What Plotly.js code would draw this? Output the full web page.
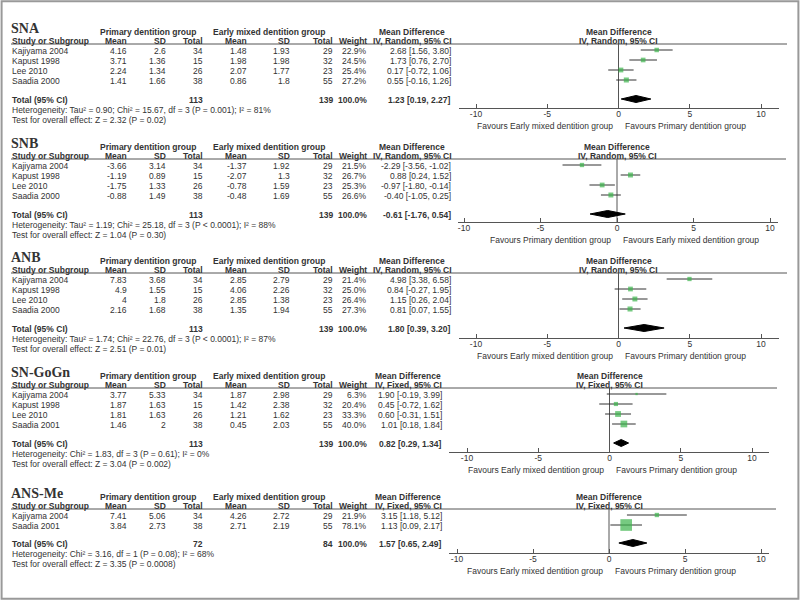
<!DOCTYPE html>
<html><head><meta charset="utf-8">
<script src="https://cdn.plot.ly/plotly-3.0.1.min.js"></script>
<style>html,body{margin:0;padding:0;background:#fff}#chart{width:800px;height:600px}</style>
</head><body><div id="chart"></div>
<script>
// ---------------- DATA ----------------
const panelNames = ['SNA', 'SNB', 'ANB', 'SN-GoGn', 'ANS-Me'];
const panelMethods = ['IV, Random, 95% CI', 'IV, Random, 95% CI', 'IV, Random, 95% CI', 'IV, Fixed, 95% CI', 'IV, Fixed, 95% CI'];
const favoursLeft = ['Favours Early mixed dentition group', 'Favours Primary dentition group', 'Favours Early mixed dentition group', 'Favours Early mixed dentition group', 'Favours Early mixed dentition group'];
const favoursRight = ['Favours Primary dentition group', 'Favours Early mixed dentition group', 'Favours Primary dentition group', 'Favours Primary dentition group', 'Favours Primary dentition group'];
const tickValues = [-10, -5, 0, 5, 10];

const studyNames = [
  ['Kajiyama 2004', 'Kapust 1998', 'Lee 2010', 'Saadia 2000'],
  ['Kajiyama 2004', 'Kapust 1998', 'Lee 2010', 'Saadia 2000'],
  ['Kajiyama 2004', 'Kapust 1998', 'Lee 2010', 'Saadia 2000'],
  ['Kajiyama 2004', 'Kapust 1998', 'Lee 2010', 'Saadia 2001'],
  ['Kajiyama 2004', 'Saadia 2001']
];
const primaryMean = [[4.16, 3.71, 2.24, 1.41], [-3.66, -1.19, -1.75, -0.88], [7.83, 4.9, 4, 2.16], [3.77, 1.87, 1.81, 1.46], [7.41, 3.84]];
const primarySD   = [[2.6, 1.36, 1.34, 1.66], [3.14, 0.89, 1.33, 1.49], [3.68, 1.55, 1.8, 1.68], [5.33, 1.63, 1.63, 2], [5.06, 2.73]];
const primaryN    = [[34, 15, 26, 38], [34, 15, 26, 38], [34, 15, 26, 38], [34, 15, 26, 38], [34, 38]];
const mixedMean   = [[1.48, 1.98, 2.07, 0.86], [-1.37, -2.07, -0.78, -0.48], [2.85, 4.06, 2.85, 1.35], [1.87, 1.42, 1.21, 0.45], [4.26, 2.71]];
const mixedSD     = [[1.93, 1.98, 1.77, 1.8], [1.92, 1.3, 1.59, 1.69], [2.79, 2.26, 1.38, 1.94], [2.98, 2.38, 1.62, 2.03], [2.72, 2.19]];
const mixedN      = [[29, 32, 23, 55], [29, 32, 23, 55], [29, 32, 23, 55], [29, 32, 23, 55], [29, 55]];
const weightPct   = [[22.9, 24.5, 25.4, 27.2], [21.5, 26.7, 25.3, 26.6], [21.4, 25.0, 26.4, 27.3], [6.3, 20.4, 33.3, 40.0], [21.9, 78.1]];
const meanDiff    = [[2.68, 1.73, 0.17, 0.55], [-2.29, 0.88, -0.97, -0.40], [4.98, 0.84, 1.15, 0.81], [1.90, 0.45, 0.60, 1.01], [3.15, 1.13]];
const ciLow       = [[1.56, 0.76, -0.72, -0.16], [-3.56, 0.24, -1.80, -1.05], [3.38, -0.27, 0.26, 0.07], [-0.19, -0.72, -0.31, 0.18], [1.18, 0.09]];
const ciHigh      = [[3.80, 2.70, 1.06, 1.26], [-1.02, 1.52, -0.14, 0.25], [6.58, 1.95, 2.04, 1.55], [3.99, 1.62, 1.51, 1.84], [5.12, 2.17]];

const totalPrimaryN = [113, 113, 113, 113, 72];
const totalMixedN   = [139, 139, 139, 139, 84];
const totalMD       = [1.23, -0.61, 1.80, 0.82, 1.57];
const totalLow      = [0.19, -1.76, 0.39, 0.29, 0.65];
const totalHigh     = [2.27, 0.54, 3.20, 1.34, 2.49];
const heterogeneity = [
  'Heterogeneity: Tau² = 0.90; Chi² = 15.67, df = 3 (P = 0.001); I² = 81%',
  'Heterogeneity: Tau² = 1.19; Chi² = 25.18, df = 3 (P < 0.0001); I² = 88%',
  'Heterogeneity: Tau² = 1.74; Chi² = 22.76, df = 3 (P < 0.0001); I² = 87%',
  'Heterogeneity: Chi² = 1.83, df = 3 (P = 0.61); I² = 0%',
  'Heterogeneity: Chi² = 3.16, df = 1 (P = 0.08); I² = 68%'
];
const overallEffect = [
  'Test for overall effect: Z = 2.32 (P = 0.02)',
  'Test for overall effect: Z = 1.04 (P = 0.30)',
  'Test for overall effect: Z = 2.51 (P = 0.01)',
  'Test for overall effect: Z = 3.04 (P = 0.002)',
  'Test for overall effect: Z = 3.35 (P = 0.0008)'
];

// ---------------- LAYOUT (pixel positions) ----------------
const W = 800, H = 600;
const panelPos = [
  {rule: 44,  total: 99,  axis: 108, n10: 476, p10: 761, ls: 459, le: 779, re: 787, mdRight: 452, mdCenter: 412},
  {rule: 159, total: 214, axis: 222, n10: 464, p10: 770, ls: 458, le: 778, re: 786, mdRight: 452, mdCenter: 412},
  {rule: 273, total: 328, axis: 338, n10: 476, p10: 761, ls: 459, le: 779, re: 787, mdRight: 452, mdCenter: 412},
  {rule: 388, total: 443, axis: 452, n10: 467, p10: 752, ls: 449, le: 769, re: 777, mdRight: 443, mdCenter: 408},
  {rule: 509, total: 543, axis: 553, n10: 457, p10: 761, ls: 449, le: 769, re: 776, mdRight: 443, mdCenter: 408}
];
const col = {study: 11, m1: 128, sd1: 167, n1: 204, m2: 248, sd2: 291, n2: 334, w: 368, g1: 148, g2: 269};
const FONT = 'Arial, "Liberation Sans", sans-serif';
const TXT = '#333';
const GREEN = '#3cb44b';

const traces = [];
const annotations = [];
const shapes = [];
const layout = {
  width: W, height: H, margin: {l: 0, r: 0, t: 0, b: 0},
  paper_bgcolor: '#fff', plot_bgcolor: 'rgba(0,0,0,0)', showlegend: false,
  yaxis: {domain: [0, 1], range: [H, 0], visible: false, fixedrange: true},
  annotations: annotations, shapes: shapes
};

function ann(x, y, text, xanchor, size, bold, family) {
  annotations.push({
    xref: 'paper', yref: 'y', x: x / W, y: y, text: bold ? '<b>' + text + '</b>' : text,
    showarrow: false, xanchor: xanchor, yanchor: 'middle', borderpad: 0,
    font: {family: family || FONT, size: size || 8.5, color: TXT}
  });
}
const fmt2 = v => v.toFixed(2);
const ciText = (m, l, h) => fmt2(m) + ' [' + fmt2(l) + ', ' + fmt2(h) + ']';

panelNames.forEach((name, p) => {
  const P = panelPos[p];
  const ax = p === 0 ? 'x' : 'x' + (p + 1);
  const axKey = p === 0 ? 'xaxis' : 'xaxis' + (p + 1);
  const scale = (P.p10 - P.n10) / 20;
  const rmin = -10 - (P.n10 - P.ls) / scale;
  const rmax = 10 + (P.le - P.p10) / scale;
  layout[axKey] = {
    domain: [P.ls / W, P.le / W], range: [rmin, rmax], anchor: 'free', position: 1 - P.axis / H,
    showline: true, linecolor: '#555', linewidth: 1, ticks: 'inside', ticklen: 4, tickcolor: '#555',
    tickmode: 'array', tickvals: tickValues, ticktext: tickValues.map(String), ticklabelstandoff: -2,
    tickfont: {family: FONT, size: 8.5, color: TXT}, showgrid: false, zeroline: false, fixedrange: true
  };
  const n = studyNames[p].length;
  const rowY = studyNames[p].map((_, i) => P.rule + 6 + 10 * i);

  // zero line
  traces.push({type: 'scatter', mode: 'lines', xaxis: ax, yaxis: 'y', x: [0, 0], y: [P.rule, P.axis],
    line: {color: '#555', width: 1}, hoverinfo: 'skip'});
  // CI lines
  const cx = [], cy = [];
  for (let i = 0; i < n; i++) { cx.push(ciLow[p][i], ciHigh[p][i], null); cy.push(rowY[i], rowY[i], null); }
  traces.push({type: 'scatter', mode: 'lines', xaxis: ax, yaxis: 'y', x: cx, y: cy,
    line: {color: '#333', width: 1}, hoverinfo: 'skip'});
  // study squares
  traces.push({type: 'scatter', mode: 'markers', xaxis: ax, yaxis: 'y', x: meanDiff[p], y: rowY,
    marker: {symbol: 'square', color: GREEN, size: weightPct[p].map(w => 1.5 + 0.13 * w), line: {width: 0}},
    hoverinfo: 'skip'});
  // total diamond
  const yt = P.total;
  traces.push({type: 'scatter', mode: 'lines', xaxis: ax, yaxis: 'y', fill: 'toself', fillcolor: '#000',
    x: [totalLow[p], totalMD[p], totalHigh[p], totalMD[p], totalLow[p]],
    y: [yt, yt - 3.5, yt, yt + 3.5, yt], line: {color: '#000', width: 1}, hoverinfo: 'skip'});

  // rule
  shapes.push({type: 'line', xref: 'paper', yref: 'y', x0: col.study / W, x1: P.re / W, y0: P.rule, y1: P.rule,
    line: {color: '#555', width: 1}});

  // titles and headers
  const zeroPx = P.n10 + 10 * scale;
  ann(col.study - 1, P.rule - 16, name, 'left', 14, true, '"Liberation Serif", "Times New Roman", serif');
  ann(col.g1, P.rule - 12, 'Primary dentition group', 'center', 8.5, true);
  ann(col.g2, P.rule - 12, 'Early mixed dentition group', 'center', 8.5, true);
  ann(P.mdCenter, P.rule - 12, 'Mean Difference', 'center', 8.5, true);
  ann(zeroPx, P.rule - 12, 'Mean Difference', 'center', 8.5, true);
  ann(col.study, P.rule - 3, 'Study or Subgroup', 'left', 8.5, true);
  ann(col.m1, P.rule - 3, 'Mean', 'right', 8.5, true);
  ann(col.sd1, P.rule - 3, 'SD', 'right', 8.5, true);
  ann(col.n1, P.rule - 3, 'Total', 'right', 8.5, true);
  ann(col.m2, P.rule - 3, 'Mean', 'right', 8.5, true);
  ann(col.sd2, P.rule - 3, 'SD', 'right', 8.5, true);
  ann(col.n2, P.rule - 3, 'Total', 'right', 8.5, true);
  ann(col.w, P.rule - 3, 'Weight', 'right', 8.5, true);
  ann(P.mdCenter, P.rule - 3, panelMethods[p], 'center', 8.5, true);
  ann(zeroPx, P.rule - 3, panelMethods[p], 'center', 8.5, true);

  // study rows
  for (let i = 0; i < n; i++) {
    const y = rowY[i] + 1;
    ann(col.study, y, studyNames[p][i], 'left');
    ann(col.m1, y, String(primaryMean[p][i]), 'right');
    ann(col.sd1, y, String(primarySD[p][i]), 'right');
    ann(col.n1, y, String(primaryN[p][i]), 'right');
    ann(col.m2, y, String(mixedMean[p][i]), 'right');
    ann(col.sd2, y, String(mixedSD[p][i]), 'right');
    ann(col.n2, y, String(mixedN[p][i]), 'right');
    ann(col.w, y, weightPct[p][i].toFixed(1) + '%', 'right');
    ann(P.mdRight, y, ciText(meanDiff[p][i], ciLow[p][i], ciHigh[p][i]), 'right');
  }
  // total row
  const ty = P.total + 1;
  ann(col.study, ty, 'Total (95% CI)', 'left', 8.5, true);
  ann(col.n1, ty, String(totalPrimaryN[p]), 'right', 8.5, true);
  ann(col.n2, ty, String(totalMixedN[p]), 'right', 8.5, true);
  ann(col.w, ty, '100.0%', 'right', 8.5, true);
  ann(P.mdRight, ty, ciText(totalMD[p], totalLow[p], totalHigh[p]), 'right', 8.5, true);
  ann(col.study, P.total + 11, heterogeneity[p], 'left');
  ann(col.study, P.total + 21, overallEffect[p], 'left');
  // favours labels
  ann(zeroPx - 5, P.axis + 18, favoursLeft[p], 'right', 8.5);
  ann(zeroPx + 5, P.axis + 18, favoursRight[p], 'left', 8.5);
});

// outer frame
shapes.push({type: 'rect', xref: 'paper', yref: 'paper', x0: 0.002, x1: 0.998, y0: 0.002, y1: 0.998,
  line: {color: '#999', width: 2}});

Plotly.newPlot('chart', traces, layout, {staticPlot: true, displayModeBar: false});
</script>
</body></html>
